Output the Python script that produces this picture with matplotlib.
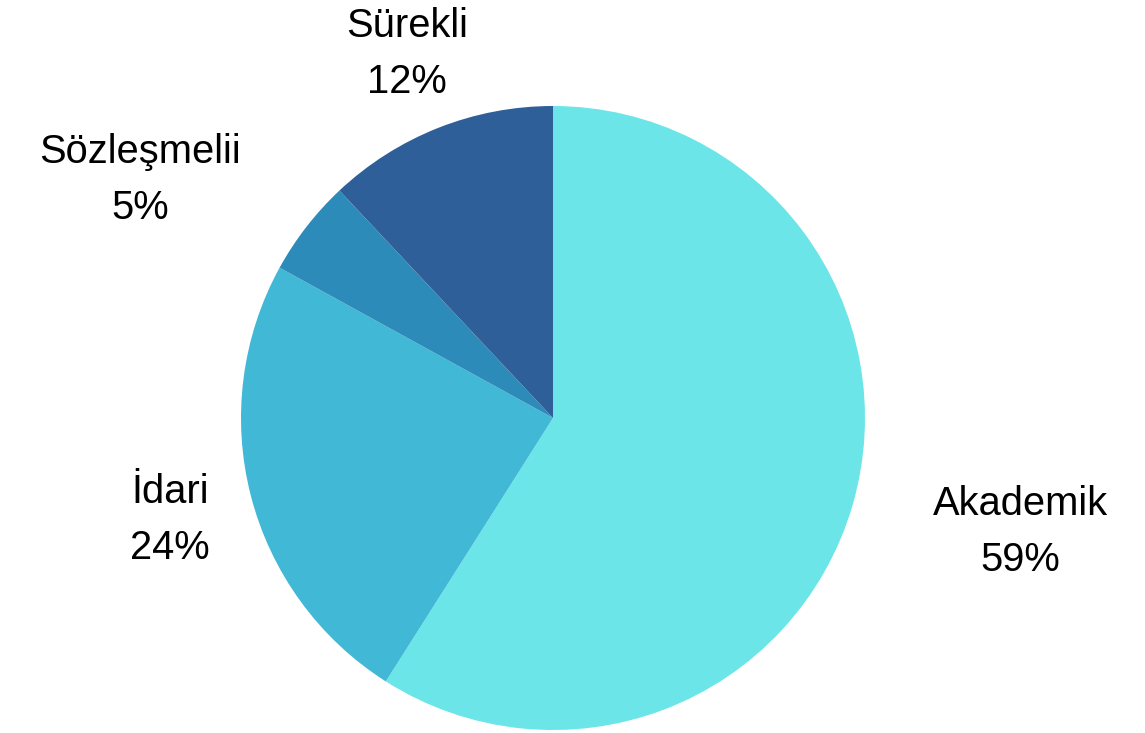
import numpy as np
import matplotlib
matplotlib.use("Agg")
import matplotlib.pyplot as plt

categories = ["Akademik", "İdari", "Sözleşmelii", "Sürekli"]
values = [59, 24, 5, 12]
colors = ["#6CE5E8", "#41B8D5", "#2D8BBA", "#2F5F98"]

# label placement: (angle offset deg, radius in units of R)
label_pos = {
    "Akademik": (2.95, 1.538),
    "İdari": (0.0, 1.267),
    "Sözleşmelii": (7.4, 1.534),
    "Sürekli": (0.0, 1.269),
}

W, H = 1145, 733
R = 312.0
cx, cy = 553.0, 418.0  # pixel center (from top)

fig = plt.figure(figsize=(W / 100, H / 100), dpi=100)
ax = fig.add_axes([0, 0, 1, 1])

wedges, _ = ax.pie(values, colors=colors, startangle=90, counterclock=False,
                   radius=1.0, center=(0, 0), frame=True,
                   wedgeprops=dict(linewidth=0))
ax.set_xlim(-cx / R, (W - cx) / R)
ax.set_ylim(-(H - cy) / R, cy / R)
ax.set_aspect("equal")
ax.axis("off")

fs = 28.7
total = sum(values)
half = 28.0 / R
for w, name, v in zip(wedges, categories, values):
    mid = 0.5 * (w.theta1 + w.theta2)
    off, r = label_pos[name]
    a = np.deg2rad(mid + off)
    x, y = r * np.cos(a), r * np.sin(a)
    ax.text(x, y + half, name, ha="center", va="center_baseline",
            fontsize=fs, family="Liberation Sans", color="#000000")
    ax.text(x, y - half, f"{round(100 * v / total)}%", ha="center",
            va="center_baseline", fontsize=fs, family="Liberation Sans",
            color="#000000")

fig.savefig("out.png", dpi=100, facecolor="white")
